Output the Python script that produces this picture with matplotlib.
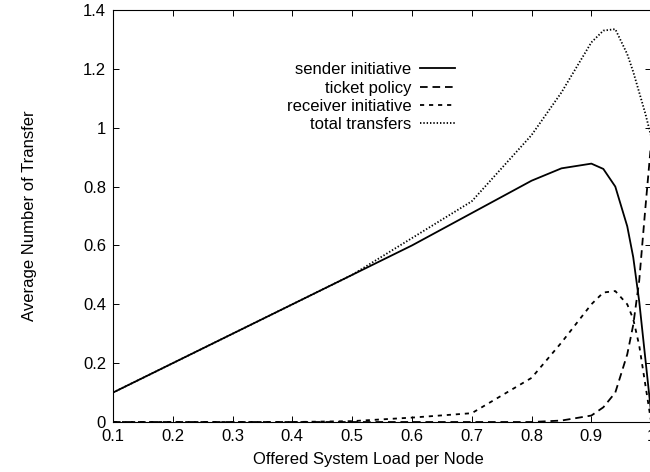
import matplotlib
matplotlib.use("Agg")
import matplotlib.pyplot as plt
from matplotlib.ticker import FuncFormatter

# load per node
load = [0.1, 0.2, 0.3, 0.4, 0.5, 0.6, 0.7, 0.8, 0.85, 0.9, 0.92, 0.94,
        0.96, 0.97, 0.98, 0.99, 1.0]

sender = [0.1, 0.2, 0.3, 0.4, 0.5, 0.6, 0.71, 0.82, 0.862, 0.878, 0.86, 0.80,
          0.665, 0.56, 0.41, 0.22, 0.03]
ticket = [0, 0, 0, 0, 0, 0, 0, 0, 0.005, 0.022, 0.05, 0.10,
          0.23, 0.33, 0.48, 0.72, 0.95]
receiver = [0, 0, 0, 0, 0.003, 0.015, 0.03, 0.15, 0.27, 0.40, 0.44, 0.445,
            0.40, 0.35, 0.26, 0.13, 0.0]
total = [0.1, 0.2, 0.3, 0.4, 0.5, 0.625, 0.75, 0.975, 1.12, 1.29, 1.33, 1.335,
         1.25, 1.19, 1.12, 1.05, 0.97]

plt.rcParams['font.family'] = ['Liberation Sans', 'DejaVu Sans']
plt.rcParams['font.size'] = 12
plt.rcParams['lines.scale_dashes'] = False

fig = plt.figure(figsize=(6.5, 4.72), dpi=100)
ax = fig.add_axes([0.1738, 0.1059, 0.828, 0.8729])

ax.plot(load, sender, color='black', lw=1.3, label='sender initiative')
ax.plot(load, ticket, color='black', lw=1.3, ls=(0, (5.5, 3.5)), label='ticket policy')
ax.plot(load, receiver, color='black', lw=1.3, ls=(0, (3, 3.5)), label='receiver initiative')
ax.plot(load, total, color='black', lw=1.3, ls=(0, (1, 1.4)), label='total transfers')

ax.set_xlim(0.1, 1.0)
ax.set_ylim(0, 1.4)
ax.set_xticks([0.1, 0.2, 0.3, 0.4, 0.5, 0.6, 0.7, 0.8, 0.9, 1.0])
ax.set_yticks([0, 0.2, 0.4, 0.6, 0.8, 1.0, 1.2, 1.4])
fmt = FuncFormatter(lambda v, p: '%g' % round(v, 2))
ax.xaxis.set_major_formatter(fmt)
ax.yaxis.set_major_formatter(fmt)
ax.tick_params(direction='in', length=4, width=0.7, top=True, right=True, pad=5)
for s in ax.spines.values():
    s.set_linewidth(0.8)

ax.set_xlabel('Offered System Load per Node')
ax.xaxis.set_label_coords(0.474, -0.072)
ax.set_ylabel('Average Number of Transfer', labelpad=33)

ax.legend(loc='upper right', bbox_to_anchor=(0.635, 0.873), frameon=False,
          markerfirst=False, handlelength=2.1, handletextpad=0.5,
          labelspacing=0.2, borderaxespad=0, borderpad=0)

fig.savefig('out.png', dpi=100)
